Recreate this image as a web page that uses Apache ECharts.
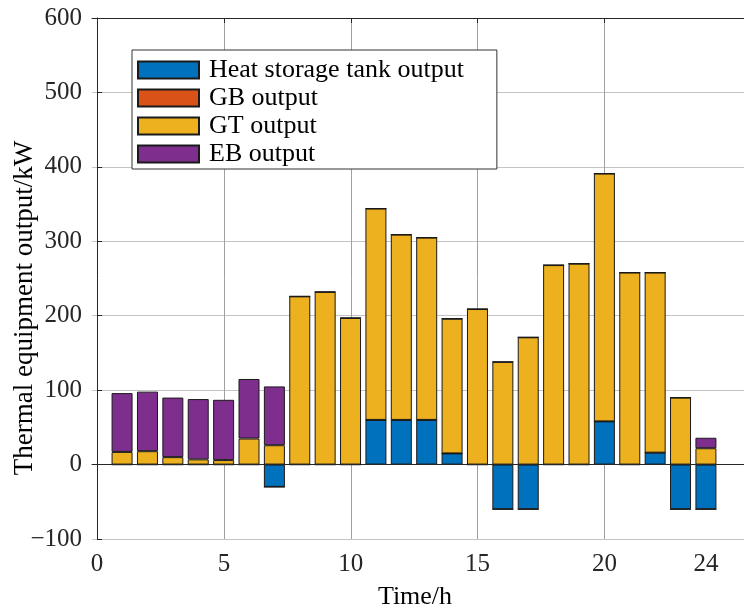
<!DOCTYPE html>
<html><head><meta charset="utf-8">
<script src="https://cdn.jsdelivr.net/npm/echarts@6/dist/echarts.min.js"></script>
<style>html,body{margin:0;padding:0;background:#fff}#c{width:744px;height:611px}</style>
</head><body><div id="c"></div>
<script>
const hours = [1,2,3,4,5,6,7,8,9,10,11,12,13,14,15,16,17,18,19,20,21,22,23,24];
const storage = [0,0,0,0,0,0,-30,0,0,0,60,60,60,15,0,-60,-60,0,0,58,0,16,-60,-60];
const gbOut = [0,0,0,0,0,0,0,0,0,0,0,0,0,0,0,0,0,0,0,0,0,0,0,0];
const gtOut = [17,18,10,7,6,35,26,226,232,197,284,249,245,181,209,138,171,268,270,333,258,242,90,22];
const ebOut = [79,80,80,81,81,80,79,0,0,0,0,0,0,0,0,0,0,0,0,0,0,0,0,14];
const seriesNames = ['Heat storage tank output','GB output','GT output','EB output'];
const colors = ['#0072BD','#D95319','#EDB120','#7E2F8E'];
const xLabelValues = [0,5,10,15,20,24];
const xTickValues = [0,5,10,15,20];
const yLabel = 'Thermal equipment output/kW';
const xLabel = 'Time/h';

const FONT = 'Liberation Serif';
const chart = echarts.init(document.getElementById('c'), null, {renderer:'canvas'});
// bar slots: hour 0 .. 25 on a category axis (hour 0 and 25 empty)
const slots = [0].concat(hours, [25]).map(String);
const slotData = arr => [null].concat(arr, [null]);
const allData = [storage, gbOut, gtOut, ebOut];
const series = allData.map((d,i)=>({
  name: seriesNames[i], type:'bar', stack:'total', data: slotData(d),
  barWidth: 21, xAxisIndex:2, yAxisIndex:1,
  itemStyle:{color:colors[i], borderColor:'#1a1a1a', borderWidth:1},
  emphasis:{disabled:true}, animation:false
}));
series.push({type:'line', xAxisIndex:0, yAxisIndex:0, data:[], silent:true, animation:false,
  markLine:{silent:true, symbol:'none', label:{show:false}, animation:false,
    lineStyle:{color:'#262626', width:1, type:'solid'}, data:[{yAxis:0}]}, z:5});

const axisCommon = {
  axisLine:{show:true, lineStyle:{color:'#262626'}},
};
chart.setOption({
  animation:false,
  grid:[
    {left:92, top:18, width:668, height:521},
    {left:84, top:18, width:676, height:521}
  ],
  legend:{
    data: seriesNames, orient:'vertical', left:132, top:50,
    padding:[6,33,1,5], itemGap:0, itemWidth:61, itemHeight:17, icon:'rect',
    backgroundColor:'#fff', borderColor:'#333', borderWidth:1,
    textStyle:{fontFamily:FONT, fontSize:26, lineHeight:28, color:'#000', padding:[0,0,0,5]}
  },
  xAxis:[{
    gridIndex:0, type:'value', position:'bottom', min:-0.2, max:25.5,
    axisLine:{show:true, lineStyle:{color:'#262626'}},
    axisTick:{show:true, inside:true, length:5, customValues:xTickValues, lineStyle:{color:'#262626'}},
    axisLabel:{customValues:xLabelValues, fontFamily:FONT, fontSize:25, color:'#262626', margin:13},
    splitLine:{show:true, lineStyle:{color:'#a0a0a0'}}
  },{
    gridIndex:0, type:'value', position:'top', min:-0.2, max:25.5,
    axisLine:{show:true, lineStyle:{color:'#262626'}},
    axisTick:{show:true, inside:true, length:5, customValues:xTickValues, lineStyle:{color:'#262626'}},
    axisLabel:{show:false}, splitLine:{show:false}
  },{
    gridIndex:1, type:'category', data:slots, show:false, boundaryGap:true
  }],
  yAxis:[{
    gridIndex:0, type:'value', min:-100, max:600, interval:100,
    axisLine:{show:true, lineStyle:{color:'#262626'}},
    axisTick:{show:true, inside:true, length:5, lineStyle:{color:'#262626'}},
    axisLabel:{fontFamily:FONT, fontSize:25, color:'#262626', margin:10,
      formatter: v => String(v).replace('-', '\u2212')},
    splitLine:{show:true, lineStyle:{color:'#c4c4c4'}}
  },{
    gridIndex:1, type:'value', min:-100, max:600, interval:100, show:false,
    splitLine:{show:false}
  }],
  series: series,
  graphic:[
    {type:'text', x:25, y:308, rotation:Math.PI/2, silent:true,
     style:{text:yLabel, font:'27px "Liberation Serif"', fill:'#000', align:'center', verticalAlign:'middle'}},
    {type:'text', x:415, y:597, silent:true,
     style:{text:xLabel, font:'26px "Liberation Serif"', fill:'#000', align:'center', verticalAlign:'middle'}}
  ]
});
</script></body></html>
